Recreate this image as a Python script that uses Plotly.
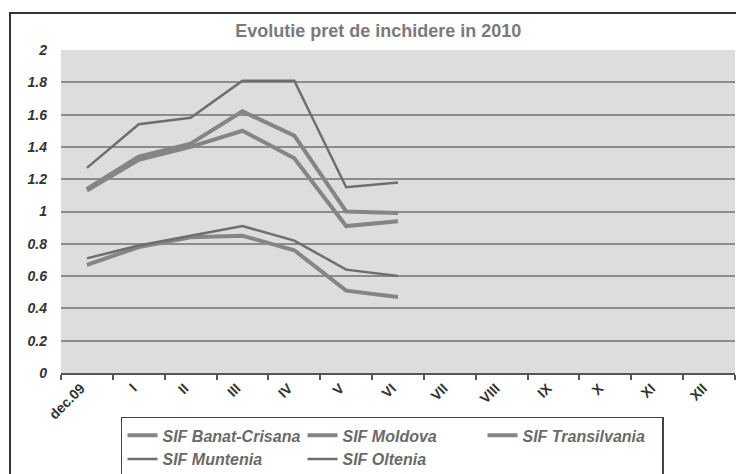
import plotly.graph_objects as go

categories = ["dec.09", "I", "II", "III", "IV", "V", "VI", "VII", "VIII", "IX", "X", "XI", "XII"]
banat_crisana = [1.14, 1.34, 1.42, 1.62, 1.47, 1.00, 0.99]
moldova = [1.13, 1.32, 1.40, 1.50, 1.33, 0.91, 0.94]
transilvania = [0.67, 0.78, 0.84, 0.85, 0.76, 0.51, 0.47]
muntenia = [0.71, 0.79, 0.85, 0.91, 0.82, 0.64, 0.60]
oltenia = [1.27, 1.54, 1.58, 1.81, 1.81, 1.15, 1.18]
y_ticks = [0, 0.2, 0.4, 0.6, 0.8, 1, 1.2, 1.4, 1.6, 1.8, 2]

series = [
    ("SIF Banat-Crisana", banat_crisana, "#858585", 4),
    ("SIF Moldova", moldova, "#858585", 4),
    ("SIF Transilvania", transilvania, "#858585", 4),
    ("SIF Muntenia", muntenia, "#6e6e6e", 2.5),
    ("SIF Oltenia", oltenia, "#6e6e6e", 2.5),
]

fig = go.Figure()
for name, vals, color, width in series:
    fig.add_trace(go.Scatter(
        x=categories[:len(vals)], y=vals, name=name, mode="lines",
        line=dict(color=color, width=width),
    ))

fig.update_layout(
    width=736, height=474,
    margin=dict(l=61, r=1, t=50, b=101, autoexpand=False),
    paper_bgcolor="white",
    plot_bgcolor="#dcdddf",
    font=dict(family="Liberation Sans, Arial, sans-serif"),
    title=dict(
        text="<b>Evolutie pret de inchidere in 2010</b>",
        x=0.514, xref="container", xanchor="center",
        y=0.9346, yref="container", yanchor="middle",
        font=dict(size=18, color="#7a7a7a"),
    ),
    showlegend=True,
    legend=dict(
        orientation="h",
        xref="container", yref="container",
        x=0.1644, xanchor="left",
        y=0.1205, yanchor="top",
        bgcolor="white",
        bordercolor="#444444", borderwidth=1.5,
        font=dict(size=16, color="#6a6a6a", family="Liberation Sans, Arial, sans-serif", style="italic", weight="bold"),
        entrywidth=135, entrywidthmode="pixels",
        tracegroupgap=0, itemwidth=30,
    ),
    xaxis=dict(
        type="category",
        categoryorder="array", categoryarray=categories,
        range=[-0.5, 12.5],
        automargin=False,
        showgrid=False,
        showline=True, linecolor="#555555", linewidth=1.5,
        ticks="outside", tickson="boundaries", ticklen=5, tickcolor="#555555", tickwidth=1.5,
        tickangle=-45, ticklabelshift=-6,
        tickfont=dict(size=14, color="#333333", weight="bold"),
        fixedrange=True,
    ),
    yaxis=dict(
        range=[0, 2.0],
        automargin=False,
        tickvals=y_ticks,
        ticktext=[("%g" % v) for v in y_ticks],
        showgrid=True, gridcolor="#8c8c8c", gridwidth=1.5,
        zeroline=False, showline=False,
        ticks="", ticklabelstandoff=13,
        tickfont=dict(size=14, color="#333333", weight="bold", style="italic"),
        fixedrange=True,
    ),
    shapes=[dict(
        type="rect", xref="paper", yref="paper",
        x0=-0.0757, x1=1.2, y0=-1.0, y1=1.1146,
        line=dict(color="#333333", width=2), layer="below",
    )],
)

fig.write_html(
    "out.html",
    config={"displayModeBar": False},
    post_script="document.body.style.margin='0';document.body.style.overflow='hidden';",
)
